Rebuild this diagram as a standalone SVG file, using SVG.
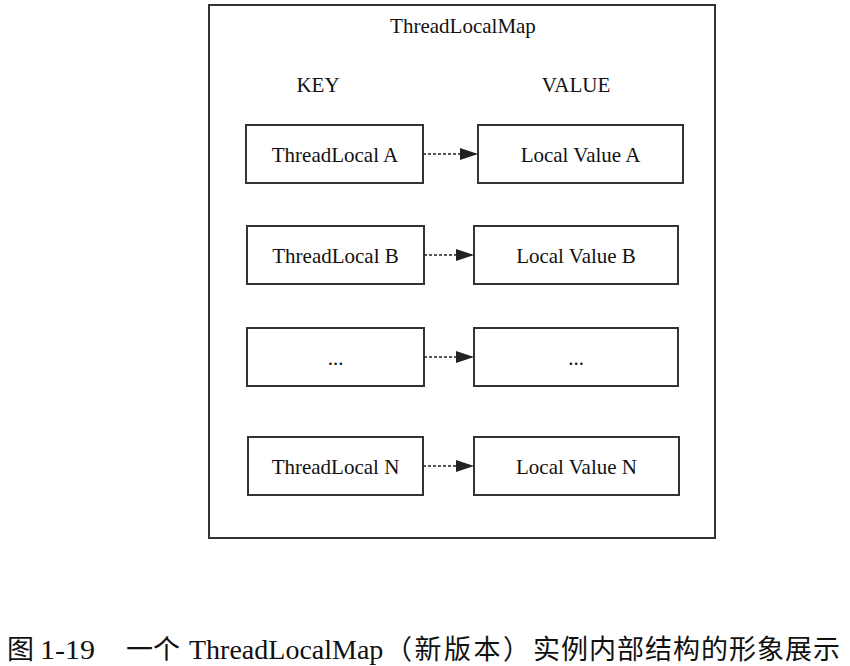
<svg xmlns="http://www.w3.org/2000/svg" width="850" height="666" viewBox="0 0 850 666">
<style>
.frame{fill:none;stroke:#333;stroke-width:2}
.box{fill:#fff;stroke:#333;stroke-width:2}
.t{font-family:"Liberation Serif","Times New Roman",serif;font-size:21px;fill:#111;text-anchor:middle}
.edge{stroke:#222;stroke-width:1.5;stroke-dasharray:3,2;fill:none}
.cap{font-family:"Liberation Serif","Noto Sans CJK SC",serif;font-size:28px;fill:#111}
.cjk{font-family:"Noto Sans CJK SC","Noto Sans CJK JP",sans-serif;font-size:27px;fill:#111}
</style>
<defs>
<marker id="ah" markerWidth="18" markerHeight="12" refX="18" refY="6" orient="auto" markerUnits="userSpaceOnUse">
<path d="M0,0 L18,6 L0,12 Z" fill="#222"/>
</marker>
</defs>
<rect fill="#fff" x="0" y="0" width="850" height="666"/>
<g id="map">
<rect class="frame" x="209" y="5" width="506" height="533"/>
<text class="t" x="463" y="33">ThreadLocalMap</text>
<text class="t" x="318" y="92">KEY</text>
<text class="t" x="576" y="92">VALUE</text>
</g>
<g id="keyA"><rect class="box" x="246" y="125" width="177" height="58"/><text class="t" x="335" y="161.5">ThreadLocal A</text></g>
<g id="valA"><rect class="box" x="478" y="125" width="205" height="58"/><text class="t" x="580.5" y="161.5">Local Value A</text></g>
<g id="keyB"><rect class="box" x="247" y="226" width="177" height="58"/><text class="t" x="335.5" y="262.5">ThreadLocal B</text></g>
<g id="valB"><rect class="box" x="474" y="226" width="204" height="58"/><text class="t" x="576" y="262.5">Local Value B</text></g>
<g id="keyDots"><rect class="box" x="247" y="328" width="177" height="58"/><text class="t" x="335.5" y="364.5">...</text></g>
<g id="valDots"><rect class="box" x="474" y="328" width="204" height="58"/><text class="t" x="576" y="364.5">...</text></g>
<g id="keyN"><rect class="box" x="248" y="437" width="175" height="58"/><text class="t" x="335.5" y="473.5">ThreadLocal N</text></g>
<g id="valN"><rect class="box" x="474" y="437" width="205" height="58"/><text class="t" x="576.5" y="473.5">Local Value N</text></g>
<g id="connectors">
<line class="edge" x1="423" y1="154" x2="478" y2="154" marker-end="url(#ah)"/>
<line class="edge" x1="424" y1="255" x2="474" y2="255" marker-end="url(#ah)"/>
<line class="edge" x1="424" y1="357" x2="474" y2="357" marker-end="url(#ah)"/>
<line class="edge" x1="423" y1="466" x2="474" y2="466" marker-end="url(#ah)"/>
</g>
<g id="caption">
<text class="cjk" x="7" y="659" font-size="26">图</text>
<text class="cap" x="40" y="659" textLength="55" lengthAdjust="spacingAndGlyphs">1-19</text>
<text class="cjk" x="126" y="659">一个</text>
<text class="cap" x="189" y="659">ThreadLocalMap</text>
<text class="cjk" x="385" y="659" textLength="145">（新版本）</text>
<text class="cjk" x="533" y="659" textLength="307">实例内部结构的形象展示</text>
</g>
</svg>
